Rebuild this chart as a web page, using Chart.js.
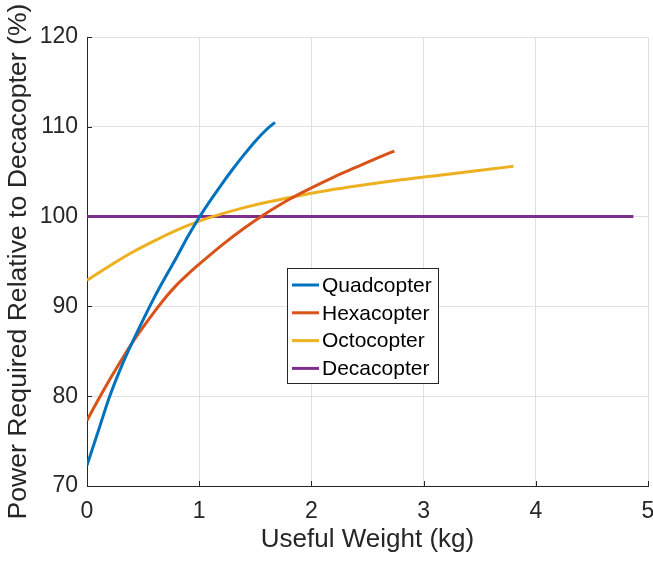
<!DOCTYPE html>
<html>
<head>
<meta charset="utf-8">
<script src="https://cdn.jsdelivr.net/npm/chart.js@4.4.1/dist/chart.umd.min.js"></script>
<style>
    html, body { margin: 0; padding: 0; background: #ffffff; }
    #wrap { width: 653px; height: 563px; }
</style>
</head>
<body>
<div id="wrap"><canvas id="power-chart" width="653" height="563"></canvas></div>
<script>
// useful weight (kg) -> power required relative to decacopter (%)
var quad_weight = [0, 0.1, 0.2, 0.3, 0.4, 0.5, 0.6, 0.7, 0.8, 0.9, 1.0, 1.1, 1.2, 1.3, 1.4, 1.5, 1.6, 1.675];
var quad_power = [72.3, 76.1, 79.9, 83.1, 85.9, 88.5, 91.0, 93.3, 95.5, 97.8, 99.9, 101.8, 103.6, 105.3, 106.9, 108.4, 109.7, 110.5];

var hexa_weight = [0, 0.1, 0.2, 0.3, 0.4, 0.5, 0.6, 0.7, 0.8, 0.9, 1.0, 1.2, 1.4, 1.6, 1.8, 2.0, 2.2, 2.4, 2.6, 2.74];
var hexa_power = [77.3, 79.6, 81.8, 83.9, 85.9, 87.7, 89.4, 91.0, 92.4, 93.6, 94.7, 96.8, 98.7, 100.4, 101.9, 103.2, 104.4, 105.5, 106.6, 107.3];

var octo_weight = [0, 0.2, 0.4, 0.6, 0.8, 1.0, 1.2, 1.4, 1.6, 1.8, 2.0, 2.4, 2.8, 3.2, 3.6, 3.8];
var octo_power = [92.9, 94.5, 96.0, 97.3, 98.5, 99.5, 100.3, 101.0, 101.6, 102.1, 102.6, 103.4, 104.1, 104.7, 105.3, 105.6];

var deca_weight = [0, 4.87];
var deca_power = [100, 100];

var series_names = ['Quadcopter', 'Hexacopter', 'Octocopter', 'Decacopter'];
var series_colors = ['#0072bd', '#d95319', '#edb120', '#7e2f8e'];

var x_ticks = [0, 1, 2, 3, 4, 5];
var y_ticks = [70, 80, 90, 100, 110, 120];

var TEXT = '#262626';
var FONT = "'Liberation Sans', Arial, Helvetica, sans-serif";

function toPoints(xs, ys) {
    return xs.map(function (x, i) { return { x: x, y: ys[i] }; });
}

function makeDataset(i, xs, ys) {
    return {
        label: series_names[i],
        data: toPoints(xs, ys),
        borderColor: series_colors[i],
        backgroundColor: series_colors[i],
        borderWidth: 3,
        pointRadius: 0,
        cubicInterpolationMode: 'monotone',
        fill: false
    };
}

// small inward tick marks on the left and bottom axes
var innerTicks = {
    id: 'innerTicks',
    beforeDatasetsDraw: function (chart) {
        var ctx = chart.ctx, area = chart.chartArea;
        var xs = chart.scales.x, ys = chart.scales.y;
        ctx.save();
        ctx.strokeStyle = TEXT;
        ctx.lineWidth = 1;
        ctx.beginPath();
        x_ticks.forEach(function (v) {
            var px = Math.round(xs.getPixelForValue(v)) + 0.5;
            ctx.moveTo(px, area.bottom);
            ctx.lineTo(px, area.bottom - 5);
        });
        y_ticks.forEach(function (v) {
            var py = Math.round(ys.getPixelForValue(v)) + 0.5;
            ctx.moveTo(area.left, py);
            ctx.lineTo(area.left + 5, py);
        });
        ctx.stroke();
        ctx.restore();
    }
};

// boxed legend sitting inside the plot
var boxLegend = {
    id: 'boxLegend',
    afterDraw: function (chart) {
        var ctx = chart.ctx;
        var bx = 287.5, by = 268.5, bw = 151, bh = 115;
        ctx.save();
        ctx.fillStyle = '#ffffff';
        ctx.fillRect(bx, by, bw, bh);
        ctx.strokeStyle = TEXT;
        ctx.lineWidth = 1;
        ctx.strokeRect(bx, by, bw, bh);
        ctx.font = '21px ' + FONT;
        ctx.textBaseline = 'middle';
        ctx.textAlign = 'left';
        chart.data.datasets.forEach(function (ds, i) {
            var cy = 285 + i * 27.8;
            ctx.strokeStyle = ds.borderColor;
            ctx.lineWidth = 3;
            ctx.beginPath();
            ctx.moveTo(292, cy);
            ctx.lineTo(319, cy);
            ctx.stroke();
            ctx.fillStyle = '#000000';
            ctx.fillText(ds.label, 322, cy + 1);
        });
        ctx.restore();
    }
};

var ctx = document.getElementById('power-chart').getContext('2d');
var power_chart = new Chart(ctx, {
    type: 'line',
    data: {
        datasets: [
            makeDataset(0, quad_weight, quad_power),
            makeDataset(1, hexa_weight, hexa_power),
            makeDataset(2, octo_weight, octo_power),
            makeDataset(3, deca_weight, deca_power)
        ]
    },
    options: {
        responsive: false,
        animation: false,
        layout: { padding: { top: 37, right: 5, left: 0, bottom: 0 } },
        plugins: {
            legend: { display: false },
            tooltip: { enabled: false }
        },
        scales: {
            x: {
                type: 'linear',
                min: 0,
                max: 5,
                afterFit: function (scale) {
                    scale.height = 77;
                    // let the last tick label run off the canvas edge
                    scale.paddingLeft = 0;
                    scale.paddingRight = 0;
                },
                afterBuildTicks: function (scale) {
                    scale.ticks = x_ticks.map(function (v) { return { value: v }; });
                },
                grid: { color: '#e0e0e0', drawTicks: false },
                border: { color: TEXT, width: 1 },
                ticks: { color: TEXT, padding: 12, font: { family: FONT, size: 23 } },
                title: {
                    display: true,
                    text: 'Useful Weight (kg)',
                    color: TEXT,
                    font: { family: FONT, size: 26 },
                    padding: { top: 0, bottom: 8 }
                }
            },
            y: {
                min: 70,
                max: 120,
                afterFit: function (scale) { scale.width = 87; },
                afterBuildTicks: function (scale) {
                    scale.ticks = y_ticks.map(function (v) { return { value: v }; });
                },
                grid: { color: '#e0e0e0', drawTicks: false },
                border: { color: TEXT, width: 1 },
                ticks: { color: TEXT, padding: 9, font: { family: FONT, size: 23 } },
                title: {
                    display: true,
                    text: 'Power Required Relative to Decacopter (%)',
                    color: TEXT,
                    font: { family: FONT, size: 26.6 },
                    padding: { top: 3, bottom: 0 }
                }
            }
        }
    },
    plugins: [innerTicks, boxLegend]
});
</script>
</body>
</html>
